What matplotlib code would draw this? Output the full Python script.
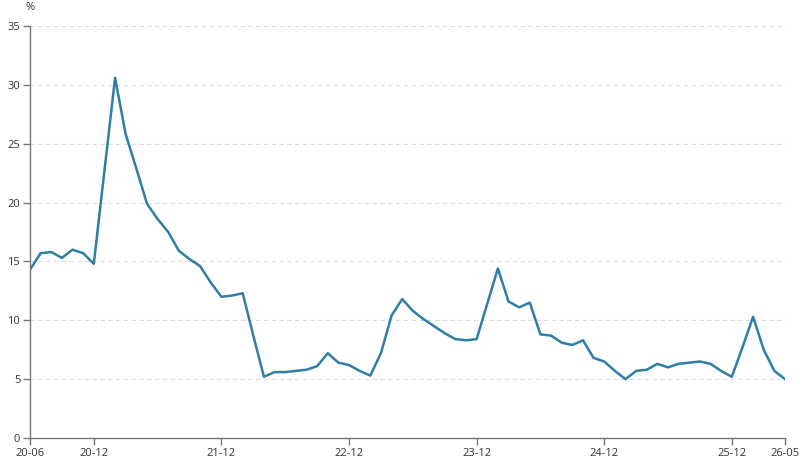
import numpy as np
import matplotlib
matplotlib.use('Agg')
import matplotlib.pyplot as plt

plt.rcParams['font.family'] = ['Open Sans', 'DejaVu Sans']

# monthly values, 2020-06 .. 2026-05
months = ['%02d-%02d' % (20 + (5 + i) // 12, (5 + i) % 12 + 1) for i in range(72)]
values = [
    14.3, 15.7, 15.8, 15.3, 16.0, 15.7, 14.8, 22.7, 30.6, 25.8,
    22.9, 19.9, 18.6, 17.5, 15.9, 15.2, 14.6, 13.2, 12.0, 12.1,
    12.3, 8.7, 5.2, 5.6, 5.6, 5.7, 5.8, 6.1, 7.2, 6.4,
    6.2, 5.7, 5.3, 7.2, 10.4, 11.8, 10.8, 10.1, 9.5, 8.9,
    8.4, 8.3, 8.4, 11.4, 14.4, 11.6, 11.1, 11.5, 8.8, 8.7,
    8.1, 7.9, 8.3, 6.8, 6.5, 5.7, 5.0, 5.7, 5.8, 6.3,
    6.0, 6.3, 6.4, 6.5, 6.3, 5.7, 5.2, 7.7, 10.3, 7.5,
    5.7, 5.0,
]
tick_labels = ['20-06', '20-12', '21-12', '22-12', '23-12', '24-12', '25-12', '26-05']
y_ticks = [0, 5, 10, 15, 20, 25, 30, 35]

fig = plt.figure(figsize=(8.02, 4.72), dpi=100)
ax = fig.add_axes([30 / 802, 1 - 438 / 472, 755 / 802, 412 / 472])

x = np.arange(len(values))
ax.plot(x, values, color='#2e7ea6', linewidth=1.8, solid_joinstyle='round')

ax.set_xlim(0, len(values) - 1)
ax.set_ylim(0, 35)
ax.set_yticks(y_ticks)
ax.set_xticks([months.index(t) for t in tick_labels])
ax.set_xticklabels(tick_labels)

for v in y_ticks[1:]:
    ax.axhline(v, color='#dddddd', linewidth=0.8, linestyle=(0, (4, 3)), zorder=0)

for s in ['top', 'right']:
    ax.spines[s].set_visible(False)
for s in ['left', 'bottom']:
    ax.spines[s].set_color('#777777')
    ax.spines[s].set_linewidth(1.0)
ax.tick_params(axis='both', colors='#777777', length=5, width=1.0,
               labelcolor='#333333', labelsize=8, pad=2)

fig.text(26 / 802, 1 - 8 / 472, '%', ha='left', va='center', fontsize=8, color='#333333')

fig.savefig('out.png', dpi=100)
